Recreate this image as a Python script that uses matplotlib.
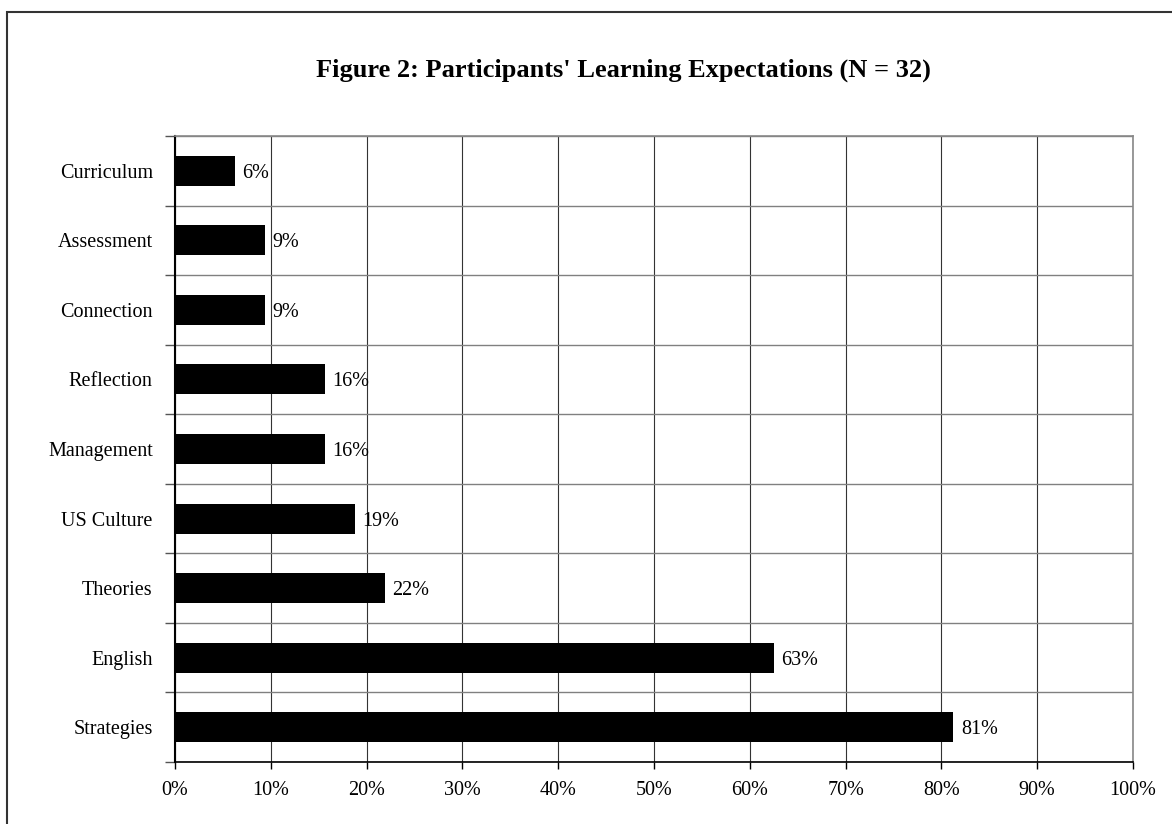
import matplotlib
matplotlib.use("Agg")
import matplotlib.pyplot as plt
from matplotlib.patches import Rectangle
from matplotlib.ticker import MultipleLocator, FuncFormatter

categories = ["Strategies", "English", "Theories", "US Culture", "Management",
              "Reflection", "Connection", "Assessment", "Curriculum"]
counts = [26, 20, 7, 6, 5, 5, 3, 3, 2]
n_participants = 32
percentages = [c / n_participants * 100 for c in counts]
title = "Figure 2: Participants' Learning Expectations (N = 32)"

W, H = 1172, 824
fig = plt.figure(figsize=(W / 100, H / 100), dpi=100)
plt.rcParams["font.family"] = ["Liberation Serif", "DejaVu Serif"]

# outer frame around the whole figure (right and bottom edges run off the page)
fig.patches.append(Rectangle((7 / W, -0.05), 1.1, 1.05 - 12 / H,
                             transform=fig.transFigure, fill=False,
                             edgecolor="#333333", linewidth=1.5))

left, right, top, bottom = 175, 1133, 136, 762
ax = fig.add_axes([left / W, 1 - bottom / H, (right - left) / W, (bottom - top) / H])

y = list(range(len(categories)))
ax.barh(y, percentages, height=0.43, color="black", zorder=3)
for yi, v in zip(y, percentages):
    ax.text(v + 0.8, yi, f"{int(v + 0.5)}%", va="center_baseline", ha="left",
            fontsize=14.5, zorder=4)

ax.set_xlim(0, 100)
ax.set_ylim(-0.5, len(categories) - 0.5)
ax.xaxis.set_major_locator(MultipleLocator(10))
ax.xaxis.set_major_formatter(FuncFormatter(lambda v, p: f"{int(v)}%"))

# category boundaries carry the ticks and horizontal gridlines
ax.set_yticks([i - 0.5 for i in range(len(categories) + 1)])
ax.set_yticklabels([])
ax.set_yticks(y, minor=True)
ax.set_yticklabels(categories, minor=True, fontsize=14.5)
ax.tick_params(axis="y", which="minor", length=0, pad=16)
ax.tick_params(axis="y", which="major", length=7, width=1, color="#555555")
ax.tick_params(axis="x", which="major", length=5, width=1, pad=9, labelsize=14.5)

ax.grid(axis="y", which="major", color="#808080", linewidth=1, zorder=1)
ax.grid(axis="x", which="major", color="#333333", linewidth=0.8, zorder=1)

ax.spines["left"].set_color("black")
ax.spines["left"].set_linewidth(1.5)
ax.spines["bottom"].set_color("black")
ax.spines["bottom"].set_linewidth(1.2)
for s in ("top", "right"):
    ax.spines[s].set_color("#888888")
    ax.spines[s].set_linewidth(1.2)

fig.text(623 / W, 1 - 70 / H, title, ha="center", va="center",
         fontsize=19, fontweight="bold")

fig.savefig("out.png", dpi=100)
